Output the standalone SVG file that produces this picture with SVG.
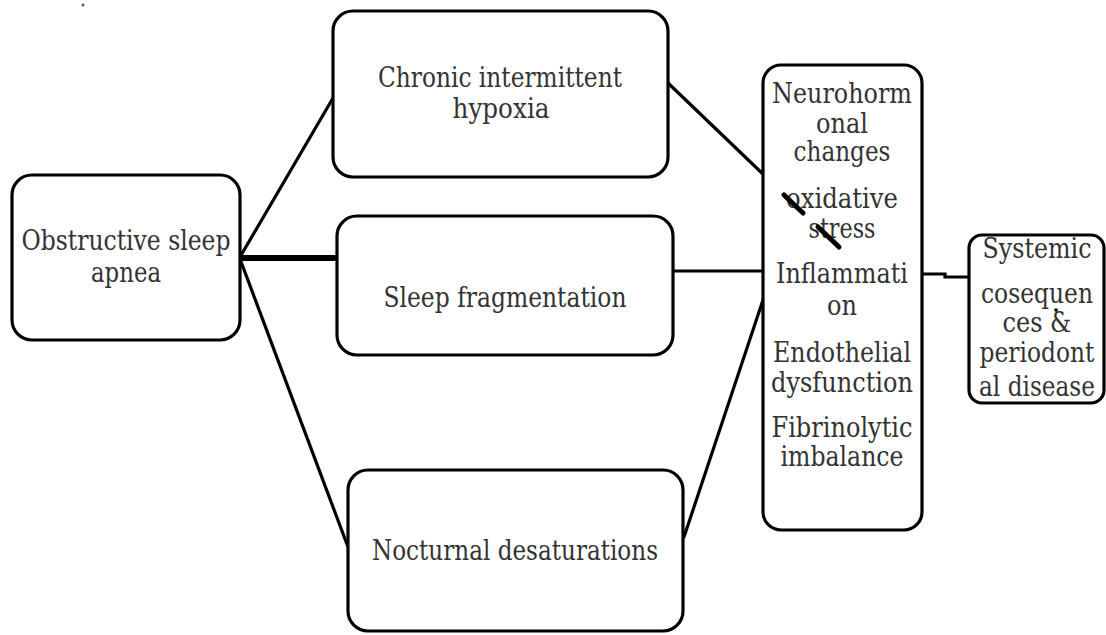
<svg xmlns="http://www.w3.org/2000/svg" width="1106" height="635" viewBox="0 0 1106 635">
  <style>
    .box { fill: #ffffff; stroke: #000000; stroke-width: 3.2; }
    .lbl { font-family: 'DejaVu Serif', 'Liberation Serif', serif; font-size: 27px; fill: #333333; text-anchor: middle; }
    .con { stroke: #000000; stroke-width: 3.2; fill: none; stroke-linecap: round; }
    .thick { stroke: #000000; stroke-width: 6; fill: none; }
    .mark { stroke: #000000; stroke-width: 5; stroke-linecap: round; }
  </style>
  <rect width="1106" height="635" fill="#ffffff"/>

  <g id="connectors">
    <line class="con" x1="240" y1="257" x2="333" y2="98"/>
    <line class="thick" x1="234" y1="258" x2="342" y2="258"/>
    <line class="con" x1="240" y1="259" x2="348" y2="547"/>
    <line class="con" x1="668" y1="83" x2="765" y2="176"/>
    <line class="con" x1="670" y1="271" x2="763" y2="271"/>
    <line class="con" x1="684" y1="537" x2="763" y2="300"/>
    <polyline class="con" points="922,274 945,274 945,277 969,277"/>
  </g>

  <g id="node-osa">
    <rect class="box" x="12" y="175" width="228" height="165" rx="20"/>
    <text class="lbl" x="126" y="250" textLength="209" lengthAdjust="spacingAndGlyphs">Obstructive sleep</text>
    <text class="lbl" x="126" y="282" textLength="70" lengthAdjust="spacingAndGlyphs">apnea</text>
  </g>

  <g id="node-hypoxia">
    <rect class="box" x="333" y="11" width="335" height="166" rx="20"/>
    <text class="lbl" x="500" y="87" textLength="244" lengthAdjust="spacingAndGlyphs">Chronic intermittent</text>
    <text class="lbl" x="501" y="118" textLength="97" lengthAdjust="spacingAndGlyphs">hypoxia</text>
  </g>

  <g id="node-fragmentation">
    <rect class="box" x="337" y="216" width="336" height="139" rx="20"/>
    <text class="lbl" x="505" y="307" textLength="243" lengthAdjust="spacingAndGlyphs">Sleep fragmentation</text>
  </g>

  <g id="node-desaturations">
    <rect class="box" x="348" y="470" width="335" height="161" rx="20"/>
    <text class="lbl" x="515" y="560" textLength="286" lengthAdjust="spacingAndGlyphs">Nocturnal desaturations</text>
  </g>

  <g id="node-mechanisms">
    <rect class="box" x="763" y="65" width="159" height="465" rx="18"/>
    <text class="lbl" x="842" y="103" textLength="140" lengthAdjust="spacingAndGlyphs">Neurohorm</text>
    <text class="lbl" x="842" y="133" textLength="52" lengthAdjust="spacingAndGlyphs">onal</text>
    <text class="lbl" x="842" y="161" textLength="97" lengthAdjust="spacingAndGlyphs">changes</text>
    <text class="lbl" x="842" y="208" textLength="112" lengthAdjust="spacingAndGlyphs">oxidative</text>
    <text class="lbl" x="842" y="238" textLength="67" lengthAdjust="spacingAndGlyphs">stress</text>
    <text class="lbl" x="842" y="283" textLength="132" lengthAdjust="spacingAndGlyphs">Inflammati</text>
    <text class="lbl" x="842" y="315" textLength="30" lengthAdjust="spacingAndGlyphs">on</text>
    <text class="lbl" x="842" y="362" textLength="138" lengthAdjust="spacingAndGlyphs">Endothelial</text>
    <text class="lbl" x="842" y="392" textLength="142" lengthAdjust="spacingAndGlyphs">dysfunction</text>
    <text class="lbl" x="842" y="437" textLength="141" lengthAdjust="spacingAndGlyphs">Fibrinolytic</text>
    <text class="lbl" x="842" y="466" textLength="123" lengthAdjust="spacingAndGlyphs">imbalance</text>
    <line class="mark" x1="784" y1="195" x2="803" y2="213"/>
    <line class="mark" x1="818" y1="227" x2="839" y2="247"/>
  </g>

  <g id="node-systemic">
    <rect class="box" x="969" y="235" width="135" height="168" rx="13"/>
    <text class="lbl" x="1037" y="258" textLength="109" lengthAdjust="spacingAndGlyphs">Systemic</text>
    <text class="lbl" x="1037" y="303" textLength="112" lengthAdjust="spacingAndGlyphs">cosequen</text>
    <text class="lbl" x="1037" y="332" textLength="69" lengthAdjust="spacingAndGlyphs">ces &amp;</text>
    <text class="lbl" x="1037" y="362" textLength="115" lengthAdjust="spacingAndGlyphs">periodont</text>
    <text class="lbl" x="1037" y="396" textLength="116" lengthAdjust="spacingAndGlyphs">al disease</text>
    <circle cx="1056" cy="310" r="1.8" fill="#000000"/>
  </g>

  <circle cx="83" cy="5" r="1.5" fill="#555555"/>
</svg>
